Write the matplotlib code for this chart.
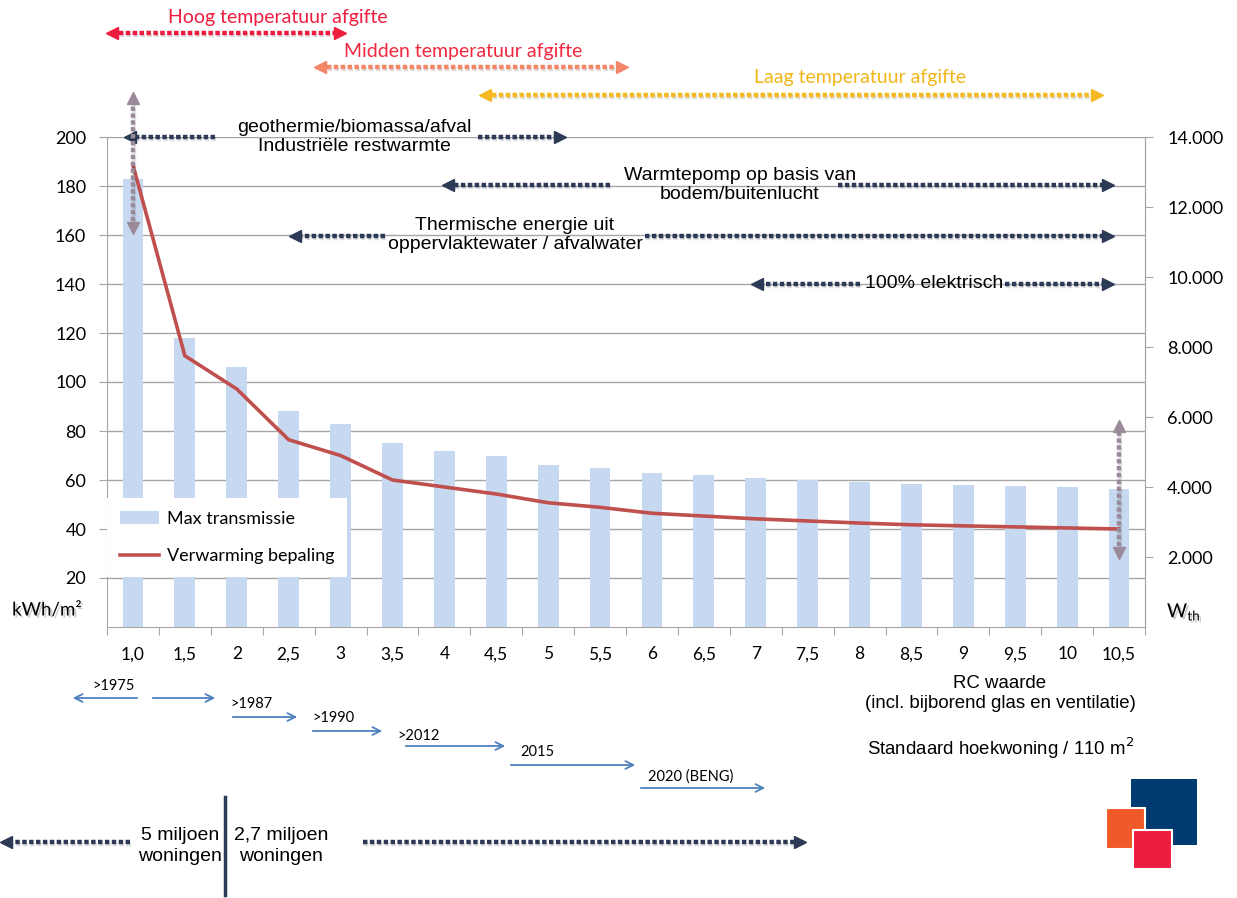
###############
# Bibliotecas #
###############
import numpy as np
import matplotlib
matplotlib.use('Agg')
import matplotlib.pyplot as plt
import matplotlib.patheffects as pe
from matplotlib.lines import Line2D
from matplotlib.patches import Rectangle, FancyArrowPatch

##########
# Data   #
##########
rc_labels = ['1,0', '1,5', '2', '2,5', '3', '3,5', '4', '4,5', '5', '5,5',
             '6', '6,5', '7', '7,5', '8', '8,5', '9', '9,5', '10', '10,5']

# kWh/m2 (linker as)
max_transmissie = [183, 118, 106, 88, 83, 75, 72, 70, 66, 65,
                   63, 62, 61, 60, 59, 58.5, 58, 57.5, 57, 56.5]

# Wth (rechter as)
verwarming = [13200, 7750, 6800, 5350, 4900, 4200, 4000, 3800, 3550, 3420,
              3250, 3170, 3090, 3030, 2970, 2920, 2890, 2860, 2830, 2800]

links_ticks = list(range(20, 201, 20))
rechts_ticks = list(range(2000, 14001, 2000))

jaren = ['>1975', '>1987', '>1990', '>2012', '2015', '2020 (BENG)']

###########
# Figuur  #
###########
W, H = 1237, 898
fig = plt.figure(figsize=(W / 100, H / 100), dpi=100)
fig.patch.set_facecolor('white')

GRIJS = '#a6a6a6'
NAVY = '#2c3a56'


def fx(x):
    return x / W


def fy(y):
    return 1 - y / H


schaduw = [pe.SimpleLineShadow(offset=(1, -1.5), shadow_color='k', alpha=0.13), pe.Normal()]


def stippel(x0, y0, x1, y1, kleur, kop_begin=False, kop_eind=True, lw=3.2):
    # gestippelde pijl in pixel coordinaten
    fig.add_artist(Line2D([fx(x0), fx(x1)], [fy(y0), fy(y1)], transform=fig.transFigure,
                          color=kleur, lw=lw, linestyle=(0, (1, 0.55)),
                          dash_capstyle='butt', path_effects=schaduw))
    if y0 == y1:
        m_eind = '>' if x1 > x0 else '<'
        m_begin = '<' if x1 > x0 else '>'
    else:
        m_eind = 'v' if y1 > y0 else '^'
        m_begin = '^' if y1 > y0 else 'v'
    if kop_eind:
        fig.add_artist(Line2D([fx(x1)], [fy(y1)], transform=fig.transFigure, marker=m_eind,
                              markersize=8, color=kleur, lw=0))
    if kop_begin:
        fig.add_artist(Line2D([fx(x0)], [fy(y0)], transform=fig.transFigure, marker=m_begin,
                              markersize=8, color=kleur, lw=0))


def tekst(x, y, s, **kw):
    kw.setdefault('ha', 'center')
    kw.setdefault('va', 'center')
    fig.text(fx(x), fy(y), s, **kw)


#################
# Grafiek       #
#################
ax = fig.add_axes([fx(107), fy(627), 1038 / W, 490 / H])
x = np.arange(len(rc_labels))
ax.bar(x, max_transmissie, width=0.4, color='#c6d9f1', zorder=2, label='Max transmissie')
ax.set_xlim(-0.5, len(rc_labels) - 0.5)
ax.set_ylim(0, 200)
ax.set_yticks(links_ticks)
ax.yaxis.grid(True, color=GRIJS, lw=1)
ax.set_axisbelow(True)
ax.tick_params(axis='y', direction='out', length=6, color=GRIJS, labelsize=13, pad=9)
for lab in ax.get_yticklabels():
    lab.set_fontfamily('Lato')

ax.set_xticks(np.arange(-0.5, len(rc_labels), 1))
ax.set_xticklabels([])
ax.set_xticks(x, minor=True)
ax.set_xticklabels(rc_labels, minor=True, fontfamily='Lato', fontsize=12.5)
ax.tick_params(axis='x', which='major', direction='out', length=6, color=GRIJS)
ax.tick_params(axis='x', which='minor', length=0, pad=14)
ax.spines['top'].set_visible(False)
for s in ['left', 'bottom', 'right']:
    ax.spines[s].set_color(GRIJS)

ax2 = ax.twinx()
ax2.plot(x, verwarming, color='#c0504d', lw=2.6, label='Verwarming bepaling', zorder=3)
ax2.set_ylim(0, 14000)
ax2.set_yticks(rechts_ticks)
ax2.set_yticklabels([f'{v:,}'.replace(',', '.') for v in rechts_ticks], fontfamily='Lato')
ax2.tick_params(axis='y', direction='out', length=6, color=GRIJS, labelsize=13, pad=10)
ax2.spines['top'].set_visible(False)
ax2.spines['right'].set_color(GRIJS)
ax2.spines['left'].set_visible(False)
ax2.spines['bottom'].set_visible(False)

h1, l1 = ax.get_legend_handles_labels()
h2, l2 = ax2.get_legend_handles_labels()
leg = ax2.legend(h1 + h2, l1 + l2, loc='upper left', bbox_to_anchor=(0, (627 - 498) / 490),
                 borderaxespad=0, frameon=True, fancybox=False, framealpha=1,
                 edgecolor='none', facecolor='white', labelspacing=1.2, borderpad=0.7,
                 handlelength=2.2, handletextpad=0.4, prop={'family': 'Lato', 'size': 13})
leg.set_zorder(10)

# as titels
tekst(47, 610, 'kWh/m²', fontsize=13.5, family='Lato',
      path_effects=[pe.withSimplePatchShadow(offset=(1.5, -1.5), alpha=0.2)])
tekst(1184, 612, r'W$_{\mathregular{th}}$', fontsize=14, family='Lato',
      path_effects=[pe.withSimplePatchShadow(offset=(1.5, -1.5), alpha=0.2)])

#####################
# Temperatuur pijlen #
#####################
tekst(278, 18, 'Hoog temperatuur afgifte', color='#ee1c3e', fontsize=14, family='Lato')
stippel(112, 33, 340, 33, '#ee1c3e', kop_begin=True)
tekst(463, 51, 'Midden temperatuur afgifte', color='#f2283e', fontsize=14, family='Lato')
stippel(320, 67, 622, 67, '#f4866a', kop_begin=True)
tekst(860, 77, 'Laag temperatuur afgifte', color='#f2b619', fontsize=14, family='Lato')
stippel(485, 95, 1097, 95, '#f6b921', kop_begin=True)

# bronnen
FS = 14
tekst(354, 137, 'geothermie/biomassa/afval\nIndustriële restwarmte', fontsize=FS,
      family='Liberation Sans', linespacing=1.1)
stippel(215, 137, 130, 137, NAVY)
stippel(478, 137, 560, 137, NAVY)

tekst(740, 185, 'Warmtepomp op basis van\nbodem/buitenlucht', fontsize=FS,
      family='Liberation Sans', linespacing=1.1)
stippel(610, 185, 448, 185, NAVY)
stippel(838, 185, 1108, 185, NAVY)

tekst(515, 235, 'Thermische energie uit\noppervlaktewater / afvalwater', fontsize=FS,
      family='Liberation Sans', linespacing=1.1)
stippel(385, 236, 295, 236, NAVY)
stippel(645, 236, 1108, 236, NAVY)

tekst(934, 283, '100% elektrisch', fontsize=FS, family='Liberation Sans')
stippel(860, 284, 757, 284, NAVY)
stippel(1005, 284, 1108, 284, NAVY)

# verticale pijlen
stippel(133, 228, 133, 98, '#9b8a99', kop_begin=True)
stippel(1119, 553, 1119, 426, '#9b8a99', kop_begin=True)

###############
# Jaartallen  #
###############
BLAUW = '#4f81bd'


def jaarpijl(x0, x1, y):
    fig.add_artist(FancyArrowPatch((fx(x0), fy(y)), (fx(x1), fy(y)), transform=fig.transFigure,
                                   arrowstyle='->', mutation_scale=14, color=BLAUW, lw=1.3))


jaar_pos = [(92, 686), (230, 704), (312, 718), (397, 736), (520, 752), (648, 777)]
for j, (tx, ty) in zip(jaren, jaar_pos):
    tekst(tx, ty, j, ha='left', fontsize=10.5, family='Lato')

jaarpijl(140, 70, 698)
jaarpijl(150, 218, 698)
jaarpijl(230, 300, 717)
jaarpijl(310, 385, 731)
jaarpijl(403, 508, 746)
jaarpijl(508, 638, 765)
jaarpijl(638, 768, 788)

tekst(1000, 684, 'RC waarde', fontsize=13.4, family='Liberation Sans')
tekst(1000, 704, '(incl. bijborend glas en ventilatie)', fontsize=13.4, family='Liberation Sans')
tekst(1001, 748, 'Standaard hoekwoning / 110 m$^2$', fontsize=13.4, family='Liberation Sans')

#############
# Woningen  #
#############
stippel(130, 842, 6, 842, NAVY)
stippel(363, 842, 800, 842, NAVY)
tekst(180, 846, '5 miljoen\nwoningen', fontsize=14, family='Liberation Sans', linespacing=1.25)
tekst(281, 846, '2,7 miljoen\nwoningen', fontsize=14, family='Liberation Sans', linespacing=1.25)
fig.add_artist(Line2D([fx(225), fx(225)], [fy(797), fy(895)], transform=fig.transFigure,
                      color=NAVY, lw=2.5))

##########
# Logo   #
##########
fig.add_artist(Rectangle((fx(1131), fy(845)), 66 / W, 66 / H, transform=fig.transFigure,
                         facecolor='#003a70', edgecolor='none'))
fig.add_artist(Rectangle((fx(1106), fy(849)), 39 / W, 41 / H, transform=fig.transFigure,
                         facecolor='#f05a28', edgecolor='white', lw=1.5))
fig.add_artist(Rectangle((fx(1133), fy(869)), 39 / W, 39 / H, transform=fig.transFigure,
                         facecolor='#ee1c3e', edgecolor='white', lw=1.5))

fig.savefig('out.png', dpi=100)
